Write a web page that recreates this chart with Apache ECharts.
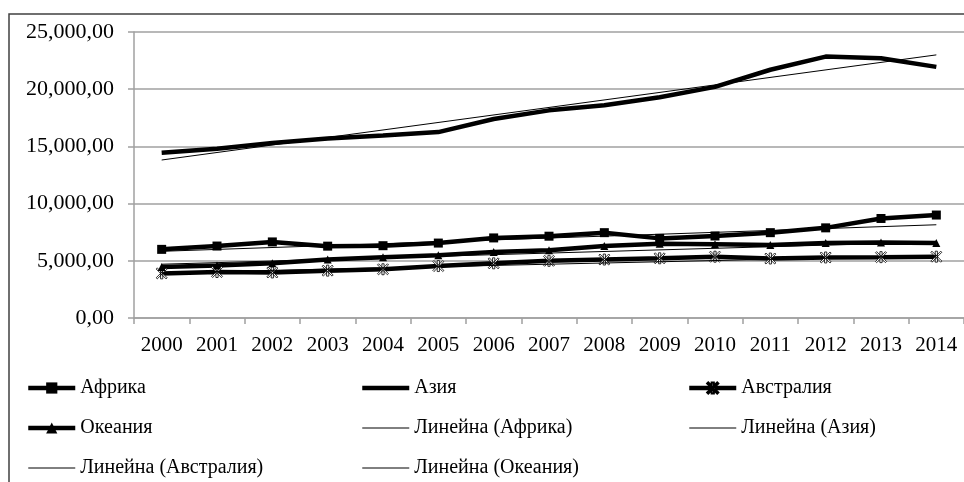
<!DOCTYPE html>
<html><head><meta charset="utf-8">
<script src="https://cdn.jsdelivr.net/npm/echarts@6/dist/echarts.min.js"></script>
<style>html,body{margin:0;padding:0;background:#fff}#c{width:964px;height:482px}</style>
</head><body><div id="c"></div>
<script>
const years = ['2000','2001','2002','2003','2004','2005','2006','2007','2008','2009','2010','2011','2012','2013','2014'];
const africa    = [6000, 6290, 6650, 6280, 6320, 6550, 7000, 7150, 7460, 6960, 7170, 7460, 7880, 8700, 9000];
const asia      = [14450, 14800, 15300, 15700, 15950, 16250, 17400, 18150, 18600, 19300, 20200, 21700, 22850, 22700, 21950];
const australia = [3900, 4020, 3980, 4140, 4260, 4540, 4780, 5000, 5110, 5220, 5360, 5200, 5290, 5320, 5360];
const oceania   = [4450, 4580, 4780, 5120, 5300, 5480, 5780, 5920, 6300, 6480, 6440, 6380, 6560, 6590, 6560];
// trend line end values (first year, last year)
const africaTrend    = [5830, 8150];
const asiaTrend      = [13810, 23000];
const australiaTrend = [3950, 5450];
const oceaniaTrend   = [4700, 6650];
const yMin = 0, yMax = 25000, yStep = 5000;

const FONT = 'Liberation Serif';
const chart = echarts.init(document.getElementById('c'));
const asterisk = 'path://M4,0L6,0L6,10L4,10ZM0,1L1,0L10,9L9,10ZM9,0L10,1L1,10L0,9Z';
function trend(name, v) {
  return {
    name: name, type: 'line', data: [[years[0], v[0]], [years[years.length - 1], v[1]]],
    symbol: 'none', lineStyle: { color: '#000', width: 1 }, itemStyle: { color: '#000' }, z: 4, silent: true
  };
}
function li(name, plain) {
  return plain ? { name: name, itemStyle: { color: 'rgba(0,0,0,0)', borderColor: 'rgba(0,0,0,0)', borderWidth: 0 } } : { name: name };
}
const legendBase = {
  orient: 'vertical', top: 378, height: 110, padding: 0, itemGap: 20, itemWidth: 47, itemHeight: 14,
  textStyle: { fontFamily: FONT, fontSize: 20, color: '#000' },
  lineStyle: { width: 'inherit', color: '#000' }, selectedMode: false
};
chart.setOption({
  animation: false,
  backgroundColor: '#fff',
  grid: { left: 134, top: 32, right: -5, bottom: 164, containLabel: false },
  graphic: [{
    type: 'rect', shape: { x: 9, y: 14, width: 1100, height: 1000 },
    style: { fill: 'none', stroke: '#404040', lineWidth: 1.5 }, z: -10, silent: true
  }],
  xAxis: {
    type: 'category', data: years, boundaryGap: true,
    axisLine: { lineStyle: { color: '#a0a0a0', width: 1.5 } },
    axisTick: { show: true, interval: 0, length: 6, lineStyle: { color: '#a0a0a0', width: 1.5 } },
    axisLabel: { interval: 0, margin: 17, fontFamily: FONT, fontSize: 21, color: '#000' },
    splitLine: { show: false }
  },
  yAxis: {
    type: 'value', min: yMin, max: yMax, interval: yStep,
    axisLine: { show: true, lineStyle: { color: '#a0a0a0', width: 1.5 } },
    axisTick: { show: true, length: 6, lineStyle: { color: '#a0a0a0', width: 1.5 } },
    axisLabel: {
      margin: 20, fontFamily: FONT, fontSize: 22, color: '#000',
      formatter: function (v) {
        return Math.round(v).toString().replace(/\B(?=(\d{3})+(?!\d))/g, ',') + ',00';
      }
    },
    splitLine: { lineStyle: { color: '#a0a0a0', width: 1.5 } }
  },
  legend: [
    Object.assign({}, legendBase, { left: 26, data: [li('Африка'), li('Океания'), li('Линейна (Австралия)', true)] }),
    Object.assign({}, legendBase, { left: 360, data: [li('Азия', true), li('Линейна (Африка)', true), li('Линейна (Океания)', true)] }),
    Object.assign({}, legendBase, { left: 687, data: [li('Австралия'), li('Линейна (Азия)', true)] })
  ],
  series: [
    { name: 'Африка', type: 'line', data: africa, symbol: 'rect', symbolSize: 9,
      lineStyle: { color: '#000', width: 4.5 }, itemStyle: { color: '#000' }, z: 3 },
    { name: 'Азия', type: 'line', data: asia, symbol: 'none',
      lineStyle: { color: '#000', width: 4.5 }, itemStyle: { color: '#000' }, z: 3 },
    { name: 'Австралия', type: 'line', data: australia, symbol: asterisk, symbolSize: 11,
      lineStyle: { color: '#000', width: 4.5 }, itemStyle: { color: '#fff', borderColor: '#000', borderWidth: 0.8 }, z: 3 },
    { name: 'Океания', type: 'line', data: oceania, symbol: 'triangle', symbolSize: 8,
      lineStyle: { color: '#000', width: 4.5 }, itemStyle: { color: '#000' }, z: 3 },
    trend('Линейна (Африка)', africaTrend),
    trend('Линейна (Азия)', asiaTrend),
    trend('Линейна (Австралия)', australiaTrend),
    trend('Линейна (Океания)', oceaniaTrend)
  ]
});
</script>
</body></html>
